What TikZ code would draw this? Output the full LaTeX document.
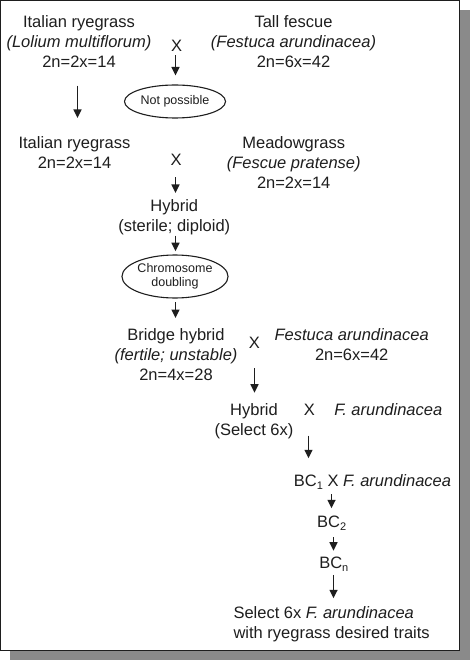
\documentclass[tikz,border=0pt]{standalone}
\usepackage{fontspec}
\setmainfont{Liberation Sans}
\usetikzlibrary{shapes.geometric,arrows.meta}
\definecolor{shadowgray}{HTML}{8A8A8A}
\definecolor{ink}{HTML}{1E1E1E}
\newcommand{\lowsub}[1]{\raisebox{-0.35ex}{\fontsize{11}{11}\selectfont #1}}
\begin{document}
\begin{tikzpicture}[x=1pt,y=-1pt,
  txt/.style={font=\fontsize{16.5}{20}\selectfont, align=center, inner sep=0pt, anchor=north, text=ink},
  cross/.style={font=\fontsize{16.5}{20}\selectfont, inner sep=0pt, text=ink},
  oval/.style={ellipse, draw=ink, line width=1.1pt, inner sep=0pt, font=\fontsize{12.5}{14}\selectfont, align=center, text=ink},
  arr/.style={draw=ink, line width=1.5pt, -{Triangle[length=8.5pt,width=8pt]}}
]
\useasboundingbox (0,0) rectangle (470,660);
% frame with shadow
\fill[shadowgray] (10,10) rectangle (470,660);
\filldraw[fill=white, draw=ink, line width=1pt] (0.5,0.5) rectangle (459.5,650.5);

% first cross
\node[txt] (ir1) at (79,15) {Italian ryegrass\\\textit{(Lolium multiflorum)}\\2n=2x=14};
\node[cross] (x1) at (176.5,46.3) {X};
\node[txt] (tf) at (293.5,15) {Tall fescue\\\textit{(Festuca arundinacea)}\\2n=6x=42};
\node[oval, minimum width=101pt, minimum height=33pt] (np) at (175,101.5) {Not possible};

% second cross
\node[txt] (ir2) at (74.5,136.7) {Italian ryegrass\\2n=2x=14};
\node[cross] (x2) at (176,159.5) {X};
\node[txt] (mg) at (293.7,136.7) {Meadowgrass\\\textit{(Fescue pratense)}\\2n=2x=14};
\node[txt] (hy1) at (174.3,199.3) {Hybrid\\(sterile; diploid)};
\node[oval, minimum width=101pt, minimum height=43pt] (cd) at (175,276.5) {Chromosome\\doubling};

% bridge hybrid
\node[txt] (bh) at (176,328.3) {Bridge hybrid\\\textit{(fertile; unstable)}\\2n=4x=28};
\node[cross] (x3) at (254.3,342.5) {X};
\node[txt] (fa) at (351.7,328.3) {\textit{Festuca arundinacea}\\2n=6x=42};
\node[txt] (hy2) at (254,403.3) {Hybrid\\(Select 6x)};
\node[cross] (x4) at (309.3,409.7) {X};
\node[txt] (fa2) at (388.3,403.3) {\textit{F. arundinacea}};

% backcrosses
\node[txt] (bc1) at (372.5,474.3) {BC\lowsub{1} X \textit{F. arundinacea}};
\node[txt] (bc2) at (331.7,516) {BC\lowsub{2}};
\node[txt] (bcn) at (333.8,556.7) {BC\lowsub{n}};
\node[txt, anchor=north west, align=left] (sel) at (233.3,606.7) {Select 6x \textit{F. arundinacea}\\with ryegrass desired traits};

% arrows
\draw[arr, shorten <=3.3pt, shorten >=9pt] ([xshift=0.5pt]np.north |- x1.south) -- ([xshift=0.5pt]np.north);
\draw[arr, shorten <=18.3pt, shorten >=18.7pt] ([xshift=-1.5pt]ir1.south) -- ([xshift=-1.5pt]ir1.south |- ir2.north);
\draw[arr, shorten <=11.7pt, shorten >=6.3pt] ([xshift=1.2pt]hy1.north |- x2.south) -- ([xshift=1.2pt]hy1.north);
\draw[arr, shorten <=0.5pt, shorten >=3.3pt] ([xshift=0.5pt]cd.north |- hy1.south) -- ([xshift=0.5pt]cd.north);
\draw[arr, shorten <=3.7pt, shorten >=10.3pt] ([xshift=0.5pt]cd.south) -- ([xshift=0.5pt]cd.south |- bh.north);
\draw[arr, shorten <=19.7pt, shorten >=10.6pt] ([xshift=0.5pt]hy2.north |- x3.south) -- ([xshift=0.5pt]hy2.north);
\draw[arr, shorten <=20pt, shorten >=16pt] ([xshift=-0.8pt]x4.south) -- ([xshift=-0.8pt]x4.south |- bc1.north);
\draw[arr, shorten <=7.6pt, shorten >=7.7pt] ([xshift=-0.2pt]bc2.north |- bc1.base) -- ([xshift=-0.2pt]bc2.north);
\draw[arr, shorten <=9.3pt, shorten >=6pt] ([xshift=-0.3pt]bcn.north |- bc2.base) -- ([xshift=-0.3pt]bcn.north);
\draw[arr, shorten <=6.5pt, shorten >=8.4pt] ([xshift=-0.3pt]bcn.base) -- ([xshift=-0.3pt]bcn.base |- sel.north);
\end{tikzpicture}
\end{document}
